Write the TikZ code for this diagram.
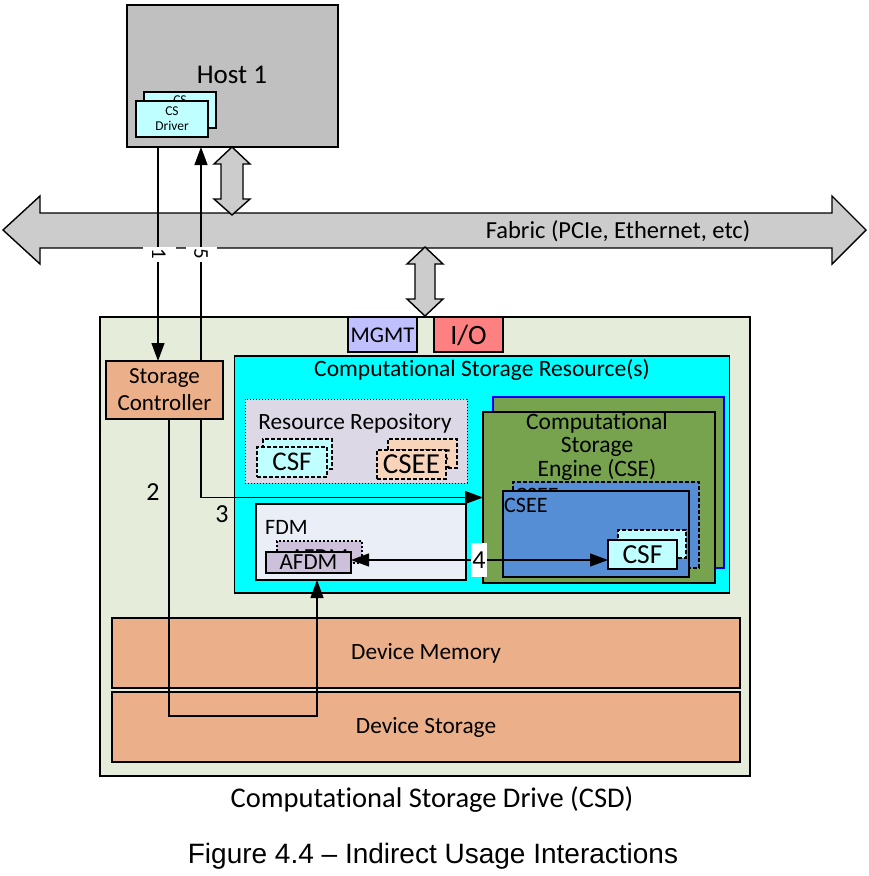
\documentclass[tikz,border=0pt]{standalone}
\usepackage{fontspec}
\setmainfont{Carlito}[Ligatures=NoCommon]
\newfontfamily\arialf{Liberation Sans}
\usetikzlibrary{arrows.meta}
\newcommand\fsz[1]{\fontsize{#1}{1.18\dimexpr#1pt\relax}\selectfont}
\definecolor{hostgray}{HTML}{C0C0C0}
\definecolor{fabgray}{HTML}{CCCCCC}
\definecolor{csfcyan}{HTML}{C0FFFF}
\definecolor{csdbg}{HTML}{E6ECDA}
\definecolor{mgmtc}{HTML}{C0C0FF}
\definecolor{ioc}{HTML}{FF8080}
\definecolor{peach}{HTML}{EBB08A}
\definecolor{lightpeach}{HTML}{F8D5BA}
\definecolor{repoc}{HTML}{DCD8E6}
\definecolor{fdmc}{HTML}{EAEEF6}
\definecolor{afdmc}{HTML}{CCC0DA}
\definecolor{cseg}{HTML}{77A34F}
\definecolor{cseeb}{HTML}{558ED5}
\definecolor{cyanc}{HTML}{00FFFF}
\begin{document}
\begin{tikzpicture}[x=1pt,y=-1pt,
  box/.style={draw=black, line width=1.6pt, inner sep=0pt, outer sep=0pt},
  dbox/.style={box, line width=1.8pt, dash pattern=on 4pt off 2pt},
  obox/.style={draw=black, line width=1pt, dotted, inner sep=0pt, outer sep=0pt},
  conn/.style={draw=black, line width=1.2pt},
  tip/.style={-{Triangle[length=18pt,width=13pt]}},
  bigarrow/.style={draw=black, line width=1.4pt, fill=fabgray, line join=miter},
  lbl/.style={fill=white, inner sep=1pt, font=\fsz{26}},
  txt/.style={inner sep=0pt, align=center}]
\useasboundingbox[fill=white] (0,0) rectangle (868,876);

% Fabric
\draw[bigarrow] (3,230) -- (40,196) -- (40,213) -- (832,213) -- (832,196) -- (866,230)
  -- (832,264) -- (832,248) -- (40,248) -- (40,264) -- cycle;
\node[txt, font=\fsz{24.5}] (fabric) at (618,231) {Fabric (PCIe, Ethernet, etc)};

% Host
\node[box, fill=hostgray, minimum width=211, minimum height=142] (host) at (232.5,76) {};
\node[txt, font=\fsz{27}] (hosttxt) at (232,75) {Host 1};
\node[box, line width=1.4pt, fill=csfcyan, minimum width=72, minimum height=36] (drvb) at (180,110) {};
\node[txt, font=\fsz{13.5}] (drvbt) at (180,100) {CS};
\node[box, line width=1.4pt, fill=csfcyan, minimum width=72, minimum height=36] (drv) at (172,119) {};
\node[txt, font=\fsz{13.5}, text depth=0pt] (drvt) at (172,119) {CS\\[-1pt]Driver};

% host <-> fabric
\draw[bigarrow] (232,147) -- (250,164) -- (243,164) -- (243,199) -- (250,199) -- (232,215)
  -- (214,199) -- (221,199) -- (221,164) -- (214,164) -- cycle;
% fabric <-> CSD
\draw[bigarrow] (425,247) -- (443,264) -- (435,264) -- (435,299) -- (443,299) -- (425,316)
  -- (407,299) -- (415,299) -- (415,264) -- (407,264) -- cycle;

% CSD
\node[box, line width=2.6pt, fill=csdbg, minimum width=650, minimum height=459] (csd) at (425,546.5) {};
\node[box, fill=mgmtc, minimum width=69, minimum height=35] (mgmt) at (382.5,334.5) {};
\node[txt, font=\fsz{22.5}] (mgmtt) at (382.5,335) {MGMT};
\node[box, fill=ioc, minimum width=69, minimum height=35] (io) at (468.5,334.5) {};
\node[txt, font=\fsz{28}] (iot) at (468.5,335) {I/O};

% Storage controller
\node[box, fill=peach, minimum width=117, minimum height=58, font=\fsz{23}, align=center] (sc) at (164.5,390) {Storage\\Controller};

% Computational storage resources
\node[box, fill=cyanc, minimum width=495, minimum height=237] (csr) at (482,474.5) {};
\node[txt, font=\fsz{23.5}] (csrt) at (482,370) {Computational Storage Resource(s)};

% Resource repository
\node[obox, fill=repoc, minimum width=222, minimum height=84] (repo) at (356,441) {};
\node[txt, font=\fsz{23.3}] (repot) at (355,423) {Resource Repository};
\node[dbox, fill=csfcyan, minimum width=69, minimum height=30] (rcsfb) at (297.5,454) {};
\node[txt, font=\fsz{27}] (rcsfbt) at (297.5,459) {CSF};
\node[dbox, fill=csfcyan, minimum width=70, minimum height=30] (rcsf) at (292,462) {};
\node[txt, font=\fsz{27}] (rcsft) at (292,462) {CSF};
\node[dbox, fill=lightpeach, minimum width=69, minimum height=29] (rcseeb) at (422.5,453.5) {};
\node[txt, font=\fsz{29}] (rcseebt) at (422.5,459) {CSEE};
\node[dbox, fill=lightpeach, minimum width=69, minimum height=29] (rcsee) at (411.5,464.5) {};
\node[txt, font=\fsz{29}] (rcseet) at (411.5,464.5) {CSEE};

% FDM
\node[box, line width=1.4pt, fill=fdmc, minimum width=210, minimum height=76] (fdm) at (361,542) {};
\node[txt, font=\fsz{22}, anchor=west] (fdmt) at (265,527) {FDM};
\node[dbox, line width=1.2pt, dash pattern=on 2pt off 2pt, fill=afdmc, minimum width=85, minimum height=22] (afdmb) at (319.5,552) {};
\node[txt, font=\fsz{23}] (afdmbt) at (319.5,557) {AFDM};
\node[box, line width=1.4pt, fill=afdmc, minimum width=85, minimum height=21] (afdm) at (308.5,562.5) {};
\node[txt, font=\fsz{23}] (afdmt) at (308.5,562.5) {AFDM};

% CSE
\node[box, draw=blue, line width=1.6pt, fill=cseg, minimum width=231, minimum height=171] (cseb) at (608.5,482.5) {};
\node[box, line width=2.2pt, fill=cseg, minimum width=232, minimum height=171] (cse) at (599,497.5) {};
\node[txt, font=\fsz{23.5}] (cset1) at (597,423) {Computational};
\node[txt, font=\fsz{23.5}] (cset2) at (597,447) {Storage};
\node[txt, font=\fsz{23.5}] (cset3) at (597,470) {Engine (CSE)};
\node[dbox, line width=2pt, fill=cseeb, minimum width=186, minimum height=86] (cseeb) at (606,525) {};
\node[txt, font=\fsz{22}, anchor=west] (cseebt) at (515,495) {CSEE};
\node[box, line width=2.2pt, fill=cseeb, minimum width=186, minimum height=86] (csee) at (596,534) {};
\node[txt, font=\fsz{22}, anchor=west] (cseet) at (504,505) {CSEE};
\node[dbox, line width=2pt, fill=csfcyan, minimum width=68, minimum height=28] (csfb) at (652,544) {};
\node[txt, font=\fsz{27.5}] (csfbt) at (652,550) {CSF};
\node[box, line width=2pt, fill=csfcyan, minimum width=69, minimum height=29] (csf) at (642.5,554.5) {};
\node[txt, font=\fsz{27.5}] (csft) at (642.5,554.5) {CSF};

% Device memory / storage
\node[box, fill=peach, minimum width=628, minimum height=70, font=\fsz{23.3}] (dmem) at (426,653) {Device Memory};
\node[box, fill=peach, minimum width=628, minimum height=70, font=\fsz{23.3}] (dsto) at (426,727) {Device Storage};

% Connectors
\coordinate (x1) at (158,0);
\coordinate (x5) at (201,0);
\coordinate (x2) at (169,0);
\coordinate (c2) at (317,716);
\coordinate (y4) at (0,560);
\draw[conn, tip] (x1 |- host.south) -- (x1 |- sc.north);
\draw[conn, tip] (x5 |- sc.north) -- (x5 |- host.south);
\draw[conn, tip] (x5 |- sc.south) |- (cse.west);
\draw[conn, tip] (x2 |- sc.south) |- (c2) -- (c2 |- fdm.south);
\draw[conn, {Triangle[length=18pt,width=13pt]}-{Triangle[length=18pt,width=13pt]}] (afdm.east |- y4) -- (csf.west |- y4);

% Labels
\node[fill=white, inner sep=0pt, font=\fsz{21}, rotate=-90, minimum width=15, minimum height=33] (l1) at (159,254) {1};
\node[fill=white, inner sep=0pt, font=\fsz{21}, rotate=-90, minimum width=15, minimum height=31] (l5) at (201,254) {5};
\node[txt, font=\fsz{26}] (l2) at (153,492) {2};
\node[txt, font=\fsz{26}] (l3) at (222,514) {3};
\node[lbl, minimum height=34, minimum width=15] (l4) at (479,560) {4};

% Captions
\node[txt, font=\fsz{28.5}] (csdt) at (432,800) {Computational Storage Drive (CSD)};
\node[txt, font=\arialf\fsz{28}] (cap) at (433,856) {Figure 4.4 – Indirect Usage Interactions};
\end{tikzpicture}
\end{document}
